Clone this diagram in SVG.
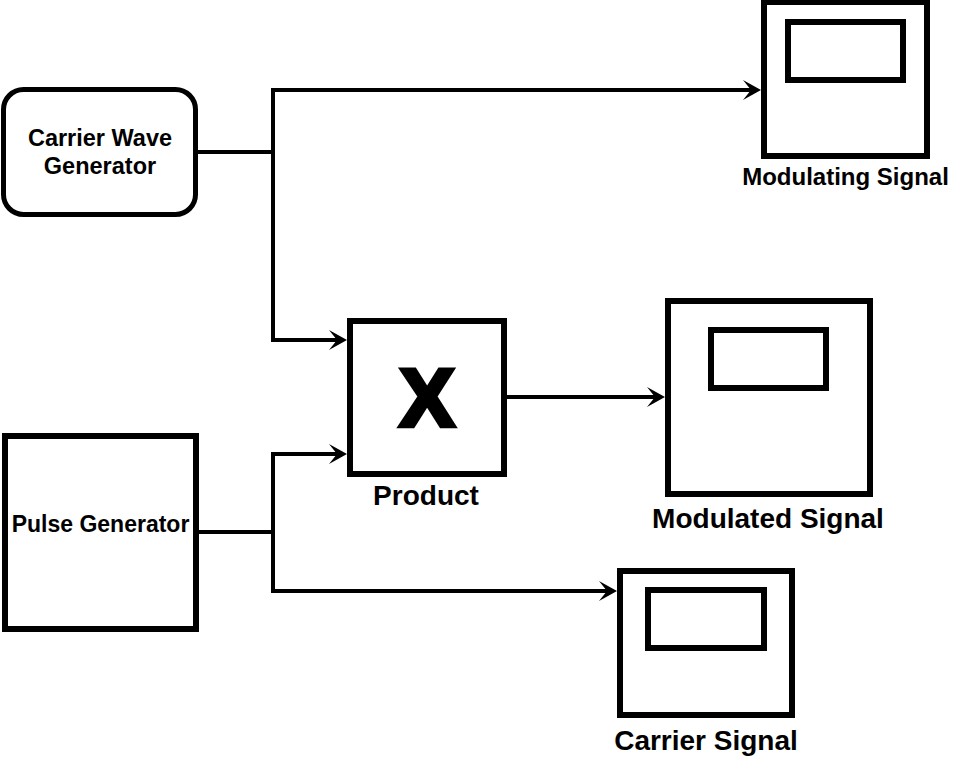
<svg xmlns="http://www.w3.org/2000/svg" width="960" height="760" viewBox="0 0 960 760">
<style>
  .box { fill: #ffffff; stroke: #000000; stroke-width: 6; }
  .screen { fill: #ffffff; stroke: #000000; stroke-width: 6; }
  .conn { fill: none; stroke: #000000; stroke-width: 4; }
  .lbl { font-family: "Liberation Sans", Arial, sans-serif; font-weight: bold; fill: #000000; text-anchor: middle; }
</style>
<defs>
  <marker id="arr" viewBox="-10 -11 22 22" refX="0" refY="0" markerWidth="22" markerHeight="22" markerUnits="userSpaceOnUse" orient="auto">
    <path d="M10,0 L-8,-10 L0,0 L-8,10 Z" fill="#000000"/>
  </marker>
</defs>
<rect width="960" height="760" fill="#ffffff"/>

<g id="connectors">
  <path class="conn" d="M198,152 H273 V90 H751" marker-end="url(#arr)"/>
  <path class="conn" d="M273,152 V340 H337" marker-end="url(#arr)"/>
  <path class="conn" d="M199,532 H273 V454 H337" marker-end="url(#arr)"/>
  <path class="conn" d="M273,532 V591 H607" marker-end="url(#arr)"/>
  <path class="conn" d="M507,397 H655" marker-end="url(#arr)"/>
</g>

<g id="carrier-wave-generator">
  <rect x="3.5" y="89.5" width="192" height="125" rx="20" ry="20" fill="#ffffff" stroke="#000000" stroke-width="5"/>
  <text class="lbl" x="100" y="146" font-size="23.5">Carrier Wave</text>
  <text class="lbl" x="100" y="174" font-size="23.5">Generator</text>
</g>

<g id="pulse-generator">
  <rect class="box" x="5" y="436" width="191" height="193"/>
  <text class="lbl" x="100.5" y="532" font-size="23">Pulse Generator</text>
</g>

<g id="product">
  <rect class="box" x="350" y="321" width="154" height="153"/>
  <text class="lbl" x="427" y="425.5" font-size="82" stroke="#000000" stroke-width="4.5" stroke-linejoin="miter">X</text>
  <text class="lbl" x="426" y="505" font-size="28">Product</text>
</g>

<g id="modulating-signal">
  <rect class="box" x="764" y="2" width="163" height="154"/>
  <rect class="screen" x="788" y="22" width="115" height="58"/>
  <text class="lbl" x="845.5" y="185" font-size="24">Modulating Signal</text>
</g>

<g id="modulated-signal">
  <rect class="box" x="668" y="301" width="202" height="193"/>
  <rect class="screen" x="711" y="330" width="115" height="58"/>
  <text class="lbl" x="768" y="528" font-size="28">Modulated Signal</text>
</g>

<g id="carrier-signal">
  <rect class="box" x="620" y="571" width="172" height="144"/>
  <rect class="screen" x="648" y="590" width="116" height="58"/>
  <text class="lbl" x="706" y="750" font-size="28">Carrier Signal</text>
</g>
</svg>
